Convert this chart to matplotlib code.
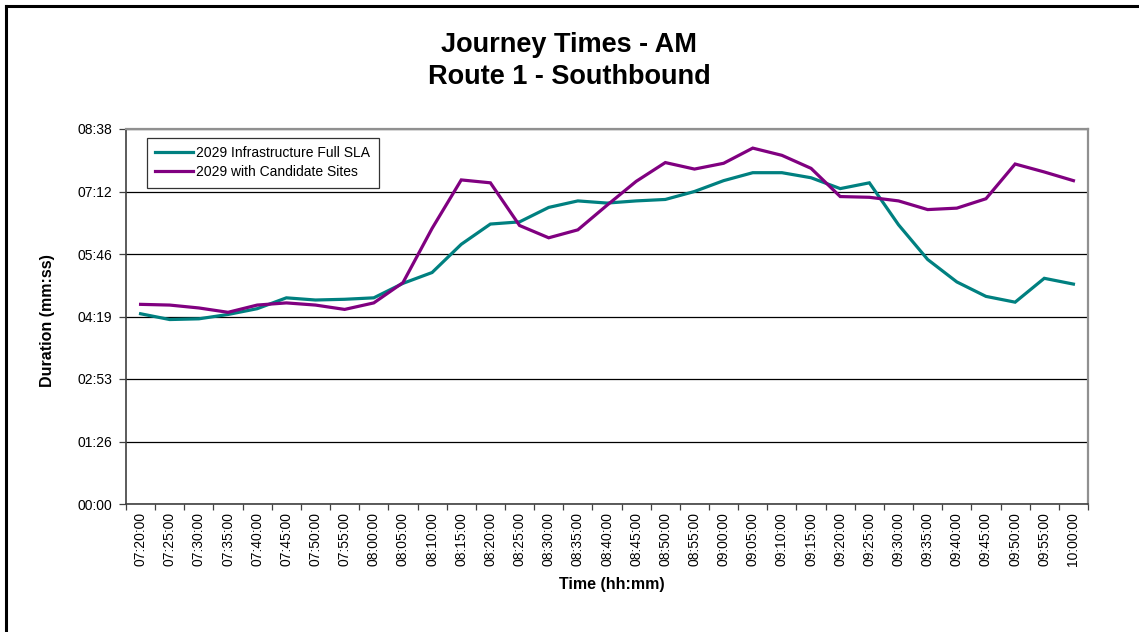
import matplotlib
matplotlib.use("Agg")
import matplotlib.pyplot as plt
from matplotlib.lines import Line2D
from matplotlib.ticker import FixedLocator, FuncFormatter

# Departure times (5-minute intervals)
times = ["07:20:00", "07:25:00", "07:30:00", "07:35:00", "07:40:00", "07:45:00",
         "07:50:00", "07:55:00", "08:00:00", "08:05:00", "08:10:00", "08:15:00",
         "08:20:00", "08:25:00", "08:30:00", "08:35:00", "08:40:00", "08:45:00",
         "08:50:00", "08:55:00", "09:00:00", "09:05:00", "09:10:00", "09:15:00",
         "09:20:00", "09:25:00", "09:30:00", "09:35:00", "09:40:00", "09:45:00",
         "09:50:00", "09:55:00", "10:00:00"]

# Journey durations in seconds
infra_full_sla = [263, 255, 256, 262, 270, 285, 282, 283, 285, 305, 320, 359,
                  387, 390, 410, 419, 416, 419, 421, 432, 447, 458, 458, 451,
                  436, 444, 386, 338, 307, 287, 279, 312, 304]
candidate_sites = [276, 275, 271, 265, 275, 278, 275, 269, 278, 306, 381, 448,
                   444, 385, 368, 379, 413, 446, 472, 463, 471, 492, 482, 464,
                   425, 424, 419, 407, 409, 422, 470, 459, 447]

series_names = ["2029 Infrastructure Full SLA", "2029 with Candidate Sites"]
series_colors = ["#008080", "#800080"]

# y ticks every 0.001 day (86.4 s)
y_ticks = [0, 86.4, 172.8, 259.2, 345.6, 432.0, 518.4]

plt.rcParams["font.family"] = ["Liberation Sans", "DejaVu Sans"]

W, H = 1139, 632
fig = plt.figure(figsize=(W / 100, H / 100), dpi=100)
fig.patch.set_facecolor("white")

# Outer chart frame (top and left edges)
fig.add_artist(Line2D([6 / W, 6 / W], [0, 1 - 6 / H], transform=fig.transFigure,
                      color="black", lw=2.2, solid_capstyle="projecting"))
fig.add_artist(Line2D([6 / W, 1], [1 - 6 / H, 1 - 6 / H], transform=fig.transFigure,
                      color="black", lw=2.2, solid_capstyle="projecting"))

left, right, bottom, top = 126, 1088, 504, 129
ax = fig.add_axes([left / W, 1 - bottom / H, (right - left) / W, (bottom - top) / H])

x = list(range(len(times)))
ax.plot(x, infra_full_sla, color=series_colors[0], lw=2.3, label=series_names[0],
        solid_joinstyle="miter")
ax.plot(x, candidate_sites, color=series_colors[1], lw=2.3, label=series_names[1],
        solid_joinstyle="miter")

ax.set_xlim(-0.5, len(times) - 0.5)
ax.set_ylim(0, y_ticks[-1])

def mmss(v, pos=None):
    s = int(round(v))
    return f"{s // 60:02d}:{s % 60:02d}"

ax.yaxis.set_major_locator(FixedLocator(y_ticks))
ax.yaxis.set_major_formatter(FuncFormatter(mmss))
ax.grid(axis="y", color="black", lw=0.9)
ax.set_axisbelow(True)

# Category labels at centres, tick marks between categories
ax.set_xticks(x)
ax.set_xticklabels(times, rotation=90)
ax.set_xticks([i - 0.5 for i in range(len(times) + 1)], minor=True)
ax.tick_params(axis="x", which="major", length=0, pad=6, labelsize=10)
ax.tick_params(axis="x", which="minor", length=4, width=0.9, color="#404040", direction="out")
ax.tick_params(axis="y", which="major", length=5, width=0.9, color="#404040", pad=5,
               labelsize=10)

for side in ["left", "bottom"]:
    ax.spines[side].set_color("#404040")
    ax.spines[side].set_linewidth(1.2)
for side in ["top", "right"]:
    ax.spines[side].set_color("#909090")
    ax.spines[side].set_linewidth(1.6)

ax.set_ylabel("Duration (mm:ss)", fontsize=11.5, fontweight="bold", va="center")
ax.yaxis.set_label_coords((48 - left) / (right - left), 0.49)
ax.set_xlabel("Time (hh:mm)", fontsize=11.5, fontweight="bold", va="center")
ax.xaxis.set_label_coords((612 - left) / (right - left), -(584 - bottom) / (bottom - top))

fig.text(569 / W, 1 - 45 / H, "Journey Times - AM", ha="center", va="center",
         fontsize=19.5, fontweight="bold")
fig.text(569 / W, 1 - 77 / H, "Route 1 - Southbound", ha="center", va="center",
         fontsize=19.5, fontweight="bold")

leg = ax.legend(loc="upper left", bbox_to_anchor=(147 / W, 1 - 138 / H),
                bbox_transform=fig.transFigure, fontsize=10, frameon=True,
                fancybox=False, borderaxespad=0, handlelength=2.7,
                handletextpad=0.25, borderpad=0.6, labelspacing=0.35)
leg.get_frame().set_edgecolor("black")
leg.get_frame().set_linewidth(0.9)

fig.savefig("out.png", dpi=100, facecolor="white")
